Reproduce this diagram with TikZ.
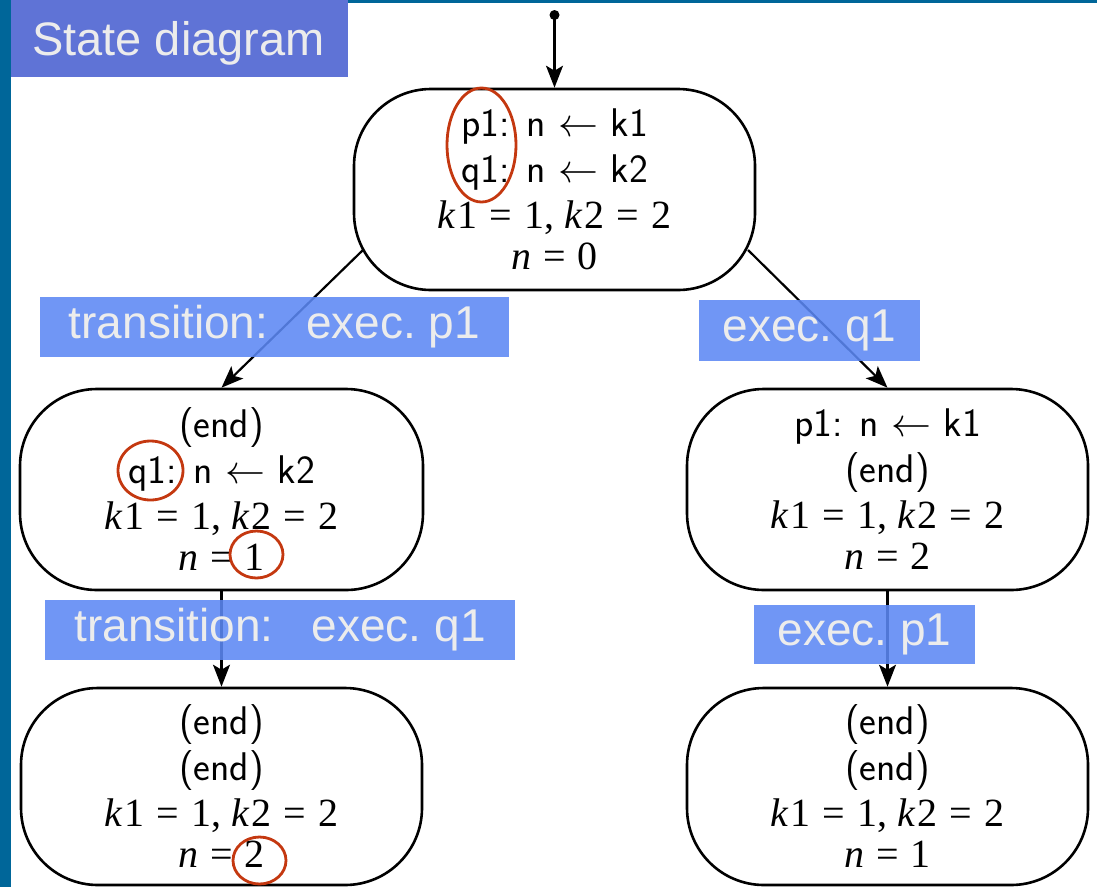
\RequirePackage{fix-cm}
\documentclass[tikz,border=0pt]{standalone}
\usepackage{fontspec}
\setmainfont{Liberation Serif}
\newfontfamily\labfont{Liberation Sans}
\usetikzlibrary{arrows.meta,calc}
\definecolor{sideblue}{RGB}{0,102,153}
\definecolor{titleblue}{RGB}{95,115,214}
\definecolor{labelblue}{RGB}{92,136,244}
\definecolor{markred}{RGB}{196,56,16}
\definecolor{labeltext}{RGB}{236,236,236}
\newcommand\kline{\textit{k}\kern2pt1\hspace{.3em}=\hspace{.3em}1,\hspace{.25em}\textit{k}\kern2pt2\hspace{.3em}=\hspace{.3em}2}
\newcommand\nline[1]{\textit{n}\hspace{.3em}=\hspace{.3em}#1}
\newcommand\asg[2]{\textsf{#1: n $\leftarrow$ #2}}
\newcommand\fin{\textsf{(end)}}
\tikzset{
  state/.style={draw, line width=2.6pt, rounded corners=77pt, minimum width=401pt,
    minimum height=201pt, align=center, font=\fontsize{40}{46}\selectfont, inner sep=0pt},
  lab/.style={fill=labelblue, fill opacity=0.88, text opacity=1, text=labeltext,
    font=\labfont\fontsize{46}{50}\selectfont, inner sep=0pt},
  conn/.style={line width=2.2pt, -{Stealth[length=22pt,width=17pt,inset=5pt]}},
  redring/.style={draw=markred, line width=2.8pt},
}
\begin{document}
\begin{tikzpicture}[x=1pt,y=-1pt]
\useasboundingbox (0,0) rectangle (1097,887);
% frame
\fill[sideblue] (0,0) rectangle (1097,3);
\fill[sideblue] (0,0) rectangle (11,887);
\fill[titleblue] (11,0) rectangle (348,77);
\node[anchor=base, text=labeltext, font=\labfont\fontsize{47}{50}\selectfont, inner sep=0pt] (title) at (178.5,55) {State diagram};
% states
\node[state] (top) at (554.5,189.5) {\asg{p1}{k1}\\ \asg{q1}{k2}\\ \kline\\[-5pt] \nline{0}};
\node[state, minimum width=403pt] (L1) at (221.5,489.5) {\fin\\ \asg{q1}{k2}\\ \kline\\[-5pt] \nline{1}};
\node[state] (R1) at (887.5,489.5) {\asg{p1}{k1}\\ \fin\\ \kline\\[-5pt] \nline{2}};
\node[state, minimum height=197pt] (L2) at (221.5,786.5) {\fin\\ \fin\\ \kline\\[-5pt] \nline{2}};
\node[state, minimum height=197pt] (R2) at (887.5,786.5) {\fin\\ \fin\\ \kline\\[-5pt] \nline{1}};
% connectors
\coordinate (init) at (554.5,15);
\fill (init) circle[radius=5pt];
\coordinate (topL) at (363,250);
\coordinate (topR) at (748,250);
\draw[conn] (init) -- (top.north);
\draw[conn] (topL) -- (L1.north);
\draw[conn] (topR) -- (R1.north);
\draw[conn] (L1.south) -- (L2.north);
\draw[conn] (R1.south) -- (R2.north);
% labels
\node[lab, minimum width=469pt, minimum height=60pt] (la) at (274.5,327) {transition:\hspace{38pt}exec.\ p1};
\node[lab, minimum width=221pt, minimum height=61pt] (lb) at (809.5,330.5) {exec.\ q1};
\node[lab, minimum width=470pt, minimum height=60pt] (lc) at (280,630) {transition:\hspace{38pt}exec.\ q1};
\node[lab, minimum width=221pt, minimum height=59pt] (ld) at (864.5,634.5) {exec.\ p1};
% red marks
\draw[redring] (481.5,145) ellipse[x radius=34.5pt, y radius=57pt];
\draw[redring] (150.5,470.5) ellipse[x radius=32.5pt, y radius=29.5pt];
\draw[redring] (256.5,554.5) ellipse[x radius=26.5pt, y radius=23.5pt];
\draw[redring] (259.5,860.5) ellipse[x radius=26.5pt, y radius=23.5pt];
\end{tikzpicture}
\end{document}
